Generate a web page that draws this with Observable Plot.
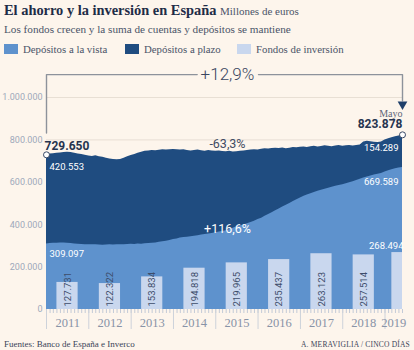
<!DOCTYPE html>
<html>
<head>
<meta charset="utf-8">
<script src="https://cdn.jsdelivr.net/npm/d3@7"></script>
<script src="https://cdn.jsdelivr.net/npm/@observablehq/plot@0.6"></script>
<style>
  html, body { margin: 0; padding: 0; }
  body { width: 414px; height: 350px; overflow: hidden; background: #fdf5ec; font-family: "Liberation Serif", serif; position: relative; }
  #title { position: absolute; left: 4px; top: 2px; font-size: 14.4px; font-weight: bold; color: #1e2c47; white-space: nowrap; }
  #title .unit { font-size: 11px; font-weight: normal; color: #4a5468; }
  #subtitle { position: absolute; left: 4px; top: 23px; font-size: 11.2px; color: #4a5468; white-space: nowrap; }
  #legend { position: absolute; left: 4px; top: 43px; font-size: 10.8px; color: #4a5468; white-space: nowrap; }
  #legend .item { position: absolute; top: 0; }
  #legend .sw { display: inline-block; width: 14px; height: 10px; vertical-align: -1px; margin-right: 5px; }
  #chart { position: absolute; left: 0; top: 60px; }
  #source { position: absolute; left: 4px; top: 339px; font-size: 9px; color: #3a4458; }
  #credit { position: absolute; right: 4px; top: 340px; font-size: 7.5px; color: #3a4458; letter-spacing: 0.2px; }
</style>
</head>
<body>
<div id="title">El ahorro y la inversión en España <span class="unit">Millones de euros</span></div>
<div id="subtitle">Los fondos crecen y la suma de cuentas y depósitos se mantiene</div>
<div id="legend"></div>
<div id="chart"></div>
<div id="source">Fuentes: Banco de España e Inverco</div>
<div id="credit">A. MERAVIGLIA / CINCO DÍAS</div>
<script>
// ---- Data (millones de euros) ----
const seriesNames = ["Depósitos a la vista", "Depósitos a plazo", "Fondos de inversión"];
const seriesColors = ["#5e92cd", "#1f4c80", "#c9d7ee"];

// Monthly, from Jan 2011 to end of May 2019 (thousands of millions)
const depositosVista = [
  309.097, 311, 312, 313, 314, 314, 313, 311, 309, 308, 307, 306,
  306, 305, 305, 304, 303, 304, 305, 304, 306, 305, 306, 307,
  308, 307, 309, 308, 310, 311, 312, 314, 317, 320, 322, 326,
  330, 333, 337, 340, 341, 343, 346, 348, 351, 354, 356, 359,
  362, 365, 368, 372, 377, 383, 390, 395, 399, 404, 410, 416,
  424, 430, 440, 448, 456, 466, 474, 484, 492, 500, 510, 518,
  526, 534, 540, 546, 552, 558, 563, 567, 572, 577, 581, 585,
  588, 593, 598, 603, 608, 614, 620, 625, 630, 634, 638, 642,
  648, 654, 659, 664, 667, 669.589
];
// Total deposits (vista + plazo)
const depositosTotal = [
  729.650, 734, 735, 737, 738, 740, 742, 741, 737, 733, 731, 728,
  724, 722, 725, 720, 718, 714, 710, 707, 706, 708, 714, 721,
  726, 731, 737, 742, 746, 748, 750, 749, 751, 753, 752, 754,
  755, 754, 752, 753, 750, 748, 750, 752, 749, 747, 750, 748,
  746, 748, 745, 744, 746, 743, 744, 746, 748, 750, 752, 754,
  752, 756, 758, 757, 759, 761, 760, 762, 758, 761, 764, 763,
  765, 767, 764, 768, 770, 767, 769, 772, 770, 768, 771, 773,
  770, 772, 774, 771, 774, 776, 790, 794, 791, 789, 788, 790,
  800, 806, 810, 815, 818, 823.878
];
const years = [2011, 2012, 2013, 2014, 2015, 2016, 2017, 2018, 2019];
const fondos = [127731, 122322, 153834, 194818, 219965, 235437, 263123, 257514, 268494];
const yTicks = [0, 200000, 400000, 600000, 800000, 1000000];

const start = new Date(Date.UTC(2011, 0, 1));
const end = new Date(Date.UTC(2019, 5, 1));

const fmt = d3.formatLocale({decimal: ",", thousands: ".", grouping: [3], currency: ["", "€"]}).format(",.0f");

// ---- Legend ----
const legendX = [0, 121, 233];
document.getElementById("legend").innerHTML = seriesNames.map((n, i) =>
  `<span class="item" style="left:${legendX[i]}px"><span class="sw" style="background:${seriesColors[i]}"></span>${n}</span>`).join("");

// ---- Build tables ----
const rows = depositosVista.map((v, i) => ({
  date: d3.utcMonth.offset(start, i),
  vista: v * 1000,
  total: depositosTotal[i] * 1000
}));
const bars = years.map((yr, i) => {
  const a = new Date(Date.UTC(yr, 3, 1)), b = new Date(Date.UTC(yr, 9, 1));
  const x2 = b > end ? end : b;
  const x1 = b > end ? d3.utcMonth.offset(end, -3) : a;
  return {year: yr, value: fondos[i], x1, x2, mid: new Date((+x1 + +x2) / 2)};
});
const yearMids = years.map(yr => {
  const a = new Date(Date.UTC(yr, 0, 1));
  const b = new Date(Math.min(+new Date(Date.UTC(yr + 1, 0, 1)), +end));
  return new Date((+a + +b) / 2);
});

const first = rows[0], last = rows[rows.length - 1];
const plazoStart = first.total - first.vista, plazoEnd = last.total - last.vista;
const pct = (a, b) => (b / a - 1) * 100;
const fmtPct = v => (v > 0 ? "+" : "") + v.toFixed(1).replace(".", ",") + "%";

const annoTop = 1108000;
const textDate = new Date(Date.UTC(2015, 3, 12));
const bracketLeft = [
  {x: start, y: 832000}, {x: start, y: annoTop}, {x: new Date(Date.UTC(2014, 6, 25)), y: annoTop}
];
const bracketRight = [
  {x: new Date(Date.UTC(2016, 0, 5)), y: annoTop}, {x: end, y: annoTop}, {x: end, y: 985000}
];

const numFont = "Roboto, 'Liberation Sans', sans-serif";
const dark = "#26344f";

const chart = Plot.plot({
  width: 414,
  height: 280,
  marginLeft: 46,
  marginRight: 12,
  marginTop: 37,
  marginBottom: 31,
  x: {type: "utc", domain: [start, end]},
  y: {domain: [0, 1000000]},
  style: {background: "transparent", fontFamily: numFont, overflow: "visible"},
  marks: [
    Plot.ruleY(yTicks.slice(1), {stroke: "#e8dfd4", strokeWidth: 1}),
    Plot.areaY(rows, {x: "date", y: "total", fill: seriesColors[1]}),
    Plot.areaY(rows, {x: "date", y: "vista", fill: seriesColors[0]}),
    Plot.rectY(bars, {x1: "x1", x2: "x2", y: "value", fill: seriesColors[2]}),
    Plot.axisY({ticks: yTicks, tickSize: 0, tickPadding: 4, tickFormat: fmt, fontSize: 9, fill: "#9ea9bb", label: null}),
    Plot.axisX({ticks: d3.utcMonth.range(start, d3.utcDay.offset(end, 1)), tickSize: 4, tickFormat: () => "", stroke: "#c3cad7", label: null}),
    Plot.axisX({ticks: d3.utcYear.range(start, end), tickSize: 20, tickFormat: () => "", stroke: "#cdd2da", label: null}),
    Plot.axisX({ticks: yearMids, tickSize: 0, tickPadding: 9, tickFormat: d3.utcFormat("%Y"), fontSize: 12.5, fontFamily: "'Liberation Serif', serif", fill: "#8893a7", label: null}),
    // rotated bar labels
    Plot.text(bars.slice(0, -1), {x: "mid", y: 0, text: d => fmt(d.value), rotate: -90, textAnchor: "start", lineAnchor: "middle", dy: -3, fontSize: 9.5, fill: "#3d4d6a"}),
    Plot.text(bars.slice(-1), {x: "x2", y: "value", text: d => fmt(d.value), textAnchor: "end", lineAnchor: "bottom", dy: -4, dx: 1, fontSize: 9.5, fill: "white"}),
    // bracket annotation
    Plot.line(bracketLeft, {x: "x", y: "y", stroke: "#8d929b", strokeWidth: 1.4}),
    Plot.line(bracketRight, {x: "x", y: "y", stroke: "#8d929b", strokeWidth: 1.4}),
    Plot.dot([{x: end, y: 968000}], {x: "x", y: "y", symbol: "triangle", r: 3.6, rotate: 180, fill: "#1f3f6a", stroke: "none"}),
    Plot.text([fmtPct(pct(first.total, last.total))], {x: textDate, y: annoTop, text: d => d, fontSize: 17, fill: "#3a4660", fontWeight: 300}),
    Plot.text([fmtPct(pct(plazoStart, plazoEnd))], {x: textDate, y: 783000, text: d => d, fontSize: 12.5, fill: "#3f4b63"}),
    Plot.text([fmtPct(pct(first.vista, last.vista))], {x: textDate, y: 381000, text: d => d, fontSize: 12.5, fill: "white"}),
    // start labels
    Plot.text([first], {x: "date", y: 772000, text: d => fmt(d.total), textAnchor: "start", dx: -2, fontSize: 12, fontWeight: "bold", fill: dark}),
    Plot.text([first], {x: "date", y: 674000, text: d => fmt(d.total - d.vista), textAnchor: "start", dx: 3, fontSize: 9.5, fill: "white"}),
    Plot.text([first], {x: "date", y: 263000, text: d => fmt(d.vista), textAnchor: "start", dx: 3, fontSize: 9.5, fill: "white"}),
    // end labels
    Plot.text(["Mayo"], {x: end, y: 924000, text: d => d, textAnchor: "end", fontSize: 10, fontFamily: "'Liberation Serif', serif", fill: "#5d6678"}),
    Plot.text([last], {x: "date", y: 872000, text: d => fmt(d.total), textAnchor: "end", fontSize: 12, fontWeight: "bold", fill: dark}),
    Plot.text([last], {x: "date", y: 763000, text: d => fmt(d.total - d.vista), textAnchor: "end", dx: -4, fontSize: 9.5, fill: "white"}),
    Plot.text([last], {x: "date", y: 603000, text: d => fmt(d.vista), textAnchor: "end", dx: -4, fontSize: 9.5, fill: "white"}),
    Plot.dot([first, last], {x: "date", y: "total", r: 3, fill: "white", stroke: "#3a4a66", strokeWidth: 1})
  ]
});
document.getElementById("chart").appendChild(chart);
</script>
</body>
</html>
